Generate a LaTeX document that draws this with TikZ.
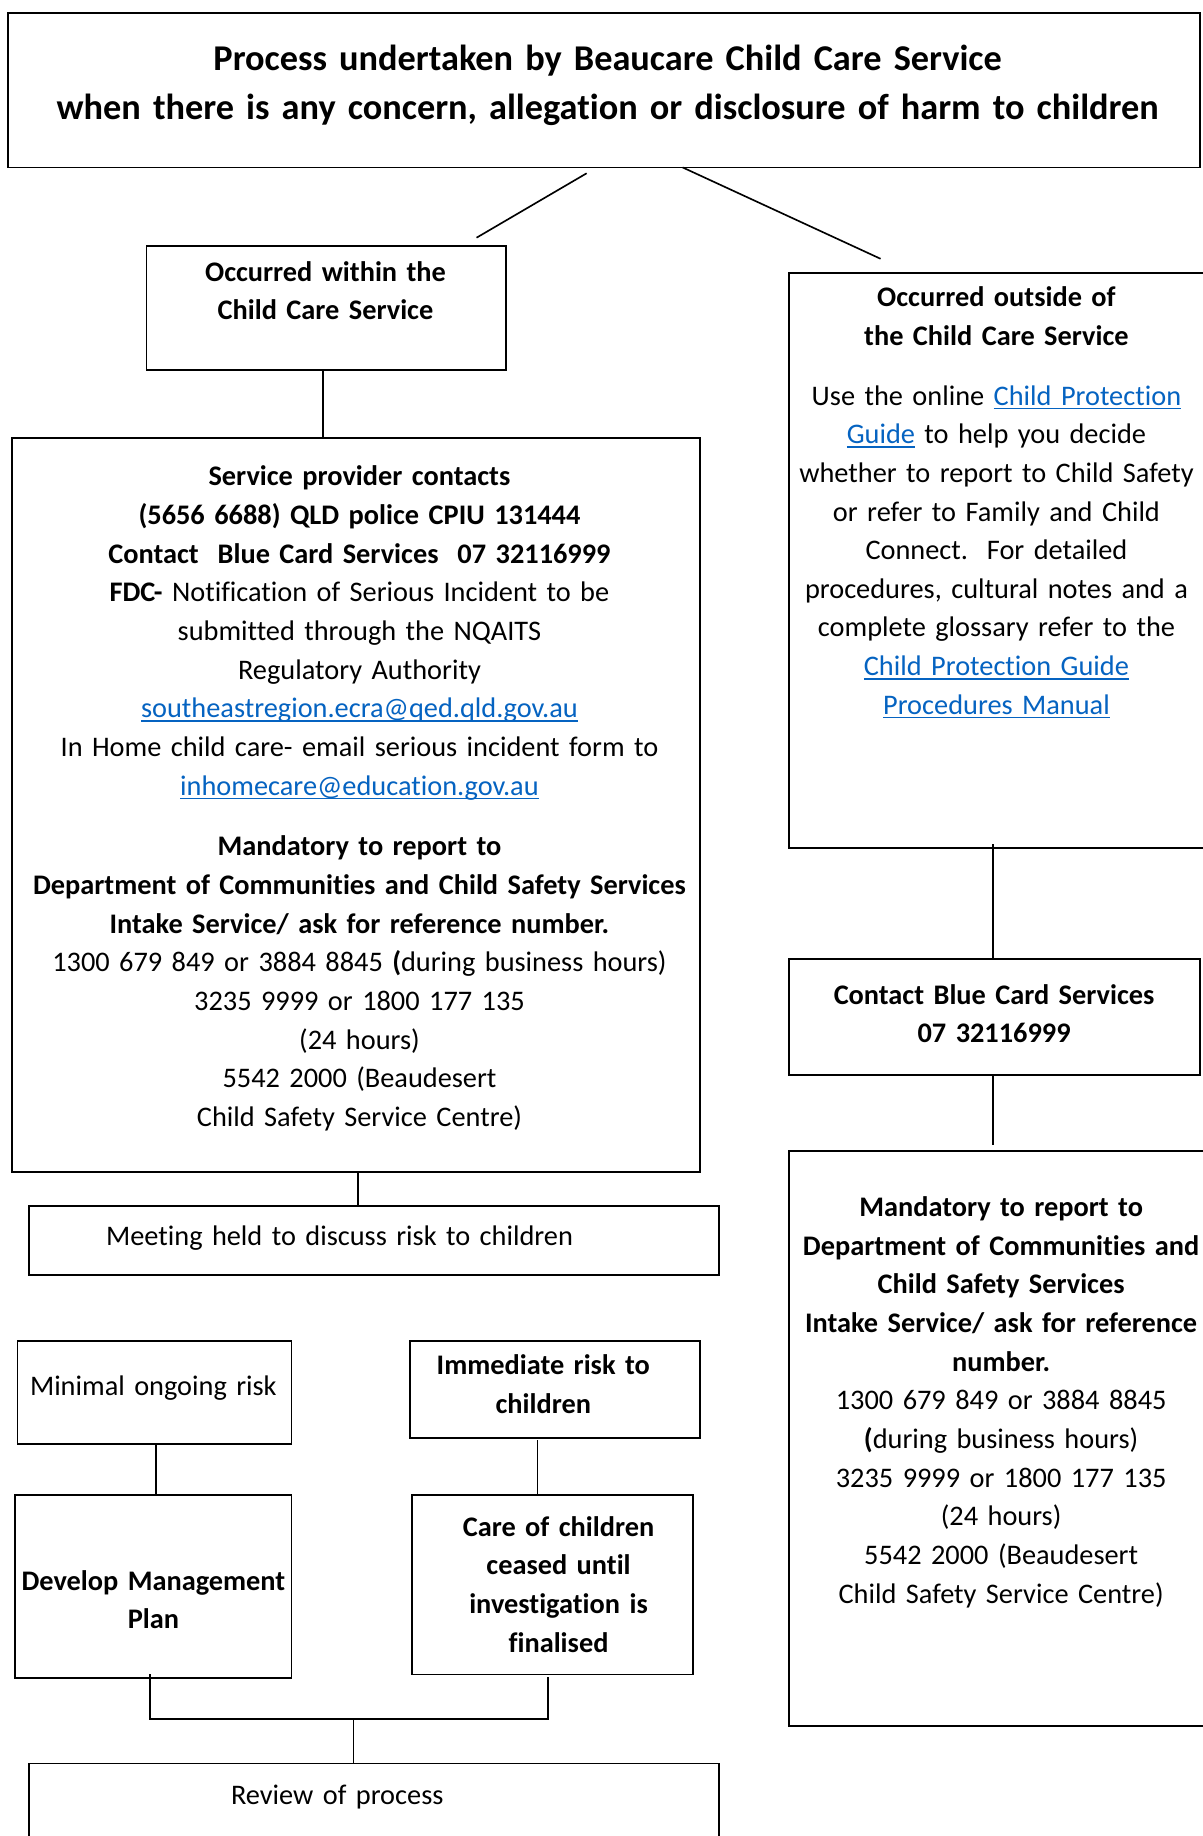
\documentclass[tikz,border=0pt]{standalone}
\usepackage{fontspec}
\setmainfont[Ligatures=NoCommon]{Carlito}
\usetikzlibrary{fit,calc}
\definecolor{linkblue}{RGB}{5,99,193}
\newcommand\lnk[1]{\leavevmode{\color{linkblue}\setbox0\hbox{#1}\rlap{\rule[-1.7pt]{\wd0}{0.6pt}}\box0}}
\newcommand\bx[5]{\node[box, fit={(#2,#3) (#4,#5)}] (#1) {};}
\tikzset{
  box/.style={draw=black, line width=0.7pt, inner sep=0pt, rectangle},
  conn/.style={draw=black, line width=0.7pt},
  txt/.style={inner sep=0pt, anchor=base, text width=400pt, align=center,
              font=\fontsize{12.1}{16.5}\selectfont},
  btxt/.style={txt, font=\fontsize{12.1}{16.5}\selectfont\bfseries},
  ttl/.style={inner sep=0pt, anchor=base, text width=500pt, align=center,
              font=\fontsize{15.5}{21}\selectfont\bfseries},
}
\begin{document}
\begin{tikzpicture}[x=0.5pt,y=-0.5pt]
\useasboundingbox (0,0) rectangle (1027,1568);
\fill[white] (0,0) rectangle (1027,1568);

% boxes
\bx{title}{7}{11}{1025}{143}
\bx{within}{125}{210}{432}{316}
\bx{big}{10}{374}{598}{1001}
\bx{meeting}{25}{1030}{614}{1089}
\bx{minimal}{15}{1145}{249}{1233}
\bx{immediate}{350}{1145}{598}{1228}
\bx{develop}{13}{1277}{249}{1433}
\bx{care}{352}{1277}{592}{1430}
\bx{review}{25}{1506}{614}{1600}
\bx{outside}{674}{233}{1040}{724}
\bx{bluecard}{674}{819}{1025}{918}
\bx{mandr}{674}{983}{1040}{1474}

% texts
\node[ttl] (title-t) at (519,60) {Process undertaken by Beaucare Child Care Service\\
 when there is any concern, allegation or disclosure of harm to children};

\node[btxt] (within-t) at (278,240) {Occurred within the\\Child Care Service};

\node[txt] (big-t1) at (307,415) {\textbf{Service provider contacts}\\
\textbf{(5656 6688) QLD police CPIU 131444}\\
\textbf{Contact\ \ Blue Card Services\ \ 07 32116999}\\
\textbf{FDC-} Notification of Serious Incident to be\\
submitted through the NQAITS\\
Regulatory Authority\\
\lnk{southeastregion.ecra@qed.qld.gov.au}\\
In Home child care- email serious incident form to\\
\lnk{inhomecare@education.gov.au}};

\node[txt] (big-t2) at (307,731) {\textbf{Mandatory to report to}\\
\textbf{Department of Communities and Child Safety Services}\\
\textbf{Intake Service/ ask for reference number.}\\
1300 679 849 or 3884 8845 \textbf{(}during business hours)\\
3235 9999 or 1800 177 135\\
(24 hours)\\
5542 2000 (Beaudesert\\
Child Safety Service Centre)};

\node[btxt] (outside-t1) at (851,262) {Occurred outside of\\the Child Care Service};
\node[txt] (outside-t2) at (851,346) {Use the online \lnk{Child Protection}\\
\lnk{Guide} to help you decide\\
whether to report to Child Safety\\
or refer to Family and Child\\
Connect.\ \ For detailed\\
procedures, cultural notes and a\\
complete glossary refer to the\\
\lnk{Child Protection Guide}\\
\lnk{Procedures Manual}};

\node[btxt,font=\fontsize{12.1}{16}\selectfont\bfseries] (bluecard-t) at (849,858)
 {Contact Blue Card Services\\07 32116999};

\node[txt] (mandr-t) at (855,1039) {\textbf{Mandatory to report to}\\
\textbf{Department of Communities and}\\
\textbf{Child Safety Services}\\
\textbf{Intake Service/ ask for reference}\\
\textbf{number.}\\
1300 679 849 or 3884 8845\\
\textbf{(}during business hours)\\
3235 9999 or 1800 177 135\\
(24 hours)\\
5542 2000 (Beaudesert\\
Child Safety Service Centre)};

\node[txt] (meeting-t) at (290,1064) {Meeting held to discuss risk to children};
\node[txt] (minimal-t) at (131,1192) {Minimal ongoing risk};
\node[btxt] (immediate-t) at (464,1174) {Immediate risk to\\children};
\node[btxt] (develop-t) at (131,1358) {Develop Management\\Plan};
\node[btxt] (care-t) at (477,1312) {Care of children\\ceased until\\investigation is\\finalised};
\node[txt] (review-t) at (288,1541) {Review of process};

% connectors
\coordinate (ta) at (501,148);
\coordinate (tb) at (407,203);
\coordinate (tc) at (583,143);
\coordinate (td) at (752,221);
\draw[conn] (ta) -- (tb);
\draw[conn] (tc) -- (td);

\coordinate (w1) at (276,316);
\draw[conn] (w1) -- (w1 |- big.north);
\coordinate (b1) at (306,1001);
\draw[conn] (b1) -- (b1 |- meeting.north);

\coordinate (o1) at (848,721);
\draw[conn] (o1) -- (o1 |- bluecard.north);
\coordinate (o2) at (848,918);
\coordinate (o3) at (848,978);
\draw[conn] (o2) -- (o3);

\coordinate (m1) at (133,1233);
\draw[conn] (m1) -- (m1 |- develop.north);
\coordinate (i1) at (459,1230);
\coordinate (i2) at (459,1276);
\draw[conn] (i1) -- (i2);

\coordinate (d1) at (128,1430);
\coordinate (j1) at (128,1468);
\coordinate (c1) at (468,1432);
\coordinate (j2) at (468,1468);
\coordinate (jm) at (302,1468);
\draw[conn] (d1) -- (j1) -- (j2) -- (c1);
\draw[conn] (jm) -- (jm |- review.north);
\end{tikzpicture}
\end{document}
